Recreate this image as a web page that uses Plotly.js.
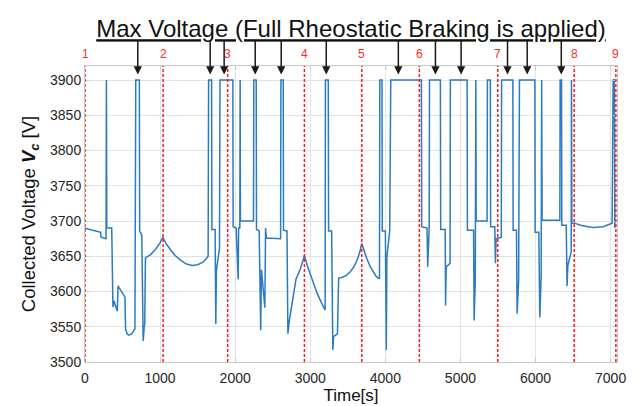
<!DOCTYPE html>
<html>
<head>
<meta charset="utf-8">
<script src="https://cdn.plot.ly/plotly-3.0.1.min.js"></script>
<style>html,body{margin:0;padding:0;background:#fff;}#chart{width:639px;height:406px;}</style>
</head>
<body>
<div id="chart"></div>
<script>
// Time [s] and collected voltage [V]
var timeS = [0, 209, 213, 280, 285, 290, 356, 362, 372, 385, 430, 440, 490, 532, 540, 560, 580, 620, 665,
  676, 724, 728, 756, 775, 790, 795, 805, 870, 940, 1000, 1036, 1080, 1133, 1200, 1267, 1350, 1430, 1500, 1578, 1640,
  1646, 1686, 1690, 1733, 1742, 1750, 1791, 1798, 1969, 1973, 2013, 2040, 2046, 2062, 2066, 2070,
  2244, 2248, 2280, 2284, 2320, 2327, 2340, 2350, 2395, 2405, 2415, 2605, 2609, 2640, 2644, 2690,
  2702, 2720, 2791, 2809, 2867, 2924, 2960, 3000, 3050, 3089, 3150, 3198, 3202, 3240, 3244, 3285, 3300, 3310, 3362,
  3378, 3420, 3480, 3533, 3580, 3622, 3660, 3685, 3720, 3755, 3800, 3844, 3880, 3922, 3926, 3955, 3959, 4000, 4013, 4020, 4058, 4072,
  4480, 4484, 4555, 4564, 4584, 4588, 4733, 4737, 4797, 4802, 4810, 4862, 4866, 5089, 5093, 5175,
  5182, 5198, 5205, 5210, 5355, 5359, 5398, 5402, 5457, 5466, 5475, 5544, 5548, 5698, 5702, 5746,
  5755, 5775, 5786, 5991, 5995, 6044, 6057, 6075, 6082, 6088, 6324, 6328, 6346, 6350, 6409, 6420,
  6430, 6475, 6479, 6484, 6520, 6600, 6700, 6777, 6900, 7020, 7034, 7050, 7056];
var voltV = [3690, 3684, 3677, 3675, 3900, 3690, 3690, 3590, 3578, 3587, 3572, 3608, 3600, 3592, 3547, 3540, 3538, 3540, 3547,
  3900, 3900, 3686, 3680, 3530, 3552, 3553, 3648, 3652, 3660, 3669, 3677, 3668, 3660, 3651, 3645, 3639, 3637, 3638, 3642, 3650,
  3900, 3900, 3688, 3688, 3554, 3630, 3661, 3900, 3900, 3692, 3690, 3617, 3690, 3690, 3900, 3700,
  3700, 3900, 3900, 3688, 3686, 3631, 3545, 3631, 3577, 3690, 3676, 3675, 3900, 3900, 3687, 3686,
  3540, 3558, 3608, 3617, 3632, 3651, 3637, 3624, 3608, 3598, 3584, 3574, 3900, 3900, 3686, 3686, 3517, 3536, 3540,
  3619, 3620, 3623, 3628, 3635, 3644, 3656, 3668, 3656, 3646, 3635, 3627, 3621, 3618, 3900, 3900, 3686, 3686, 3517, 3649, 3686, 3900,
  3900, 3692, 3690, 3635, 3690, 3900, 3900, 3688, 3688, 3580, 3635, 3640, 3900, 3900, 3687, 3687,
  3559, 3616, 3900, 3700, 3700, 3900, 3900, 3692, 3692, 3640, 3675, 3677, 3900, 3900, 3687, 3687,
  3569, 3616, 3900, 3900, 3684, 3684, 3563, 3622, 3900, 3701, 3701, 3900, 3900, 3694, 3694, 3608,
  3637, 3656, 3900, 3697, 3697, 3694, 3692, 3691, 3692, 3697, 3900, 3900, 3690];

// Section boundaries (red dashed lines) and their labels
var sectionTimes = [0, 1040, 1900, 2922, 3686, 4453, 5497, 6515, 7070];
var sectionLabels = ['1', '2', '3', '4', '5', '6', '7', '8', '9'];
// Times where full rheostatic braking is marked with arrows
var arrowTimes = [703, 1667, 1853, 2267, 2613, 3213, 4173, 4667, 5009, 5627, 5889, 6343];
var arrowVolt = 3908;

var xTicks = [0, 1000, 2000, 3000, 4000, 5000, 6000, 7000];
var yTicks = [3500, 3550, 3600, 3650, 3700, 3750, 3800, 3850, 3900];

var FONT = 'Liberation Sans, Arial, sans-serif';

var shapes = sectionTimes.map(function (t) {
  return {type: 'line', xref: 'x', yref: 'paper', x0: t, x1: t, y0: 0, y1: 1,
    line: {color: '#ff1a1a', width: 1.5, dash: '3px,2px'}};
});
var annotations = sectionLabels.map(function (lab, i) {
  return {x: sectionTimes[i], y: 1, xref: 'x', yref: 'paper', yanchor: 'bottom', yshift: 3,
    text: lab, showarrow: false, font: {family: FONT, size: 12, color: '#ff2a2a'}};
});
arrowTimes.forEach(function (t) {
  annotations.push({x: t, y: arrowVolt, xref: 'x', yref: 'y', text: '', showarrow: true,
    ax: 0, ay: -35, arrowhead: 2, arrowsize: 1.1, arrowwidth: 1.5, arrowcolor: '#1a1a1a', standoff: 0});
});

var trace = {x: timeS, y: voltV, type: 'scatter', mode: 'lines',
  line: {color: '#2b7bc0', width: 1.5}, hoverinfo: 'skip'};

var layout = {
  width: 639, height: 406,
  margin: {l: 85, r: 22, t: 66, b: 44},
  paper_bgcolor: '#ffffff', plot_bgcolor: '#ffffff',
  showlegend: false,
  title: {text: '<u>Max Voltage (Full Rheostatic Braking is applied)</u>',
    font: {family: FONT, size: 24, color: '#111'},
    x: 0.5, xref: 'paper', xanchor: 'center', y: 0.929, yref: 'container', yanchor: 'middle'},
  xaxis: {range: [0, 7085], tickvals: xTicks, ticktext: xTicks.map(String),
    showgrid: true, gridcolor: '#e3e3e3', zeroline: false,
    showline: true, linecolor: '#c8c8c8', mirror: 'ticks', ticks: 'inside', ticklen: 4, tickcolor: '#c8c8c8',
    ticklabelstandoff: 3,
    tickfont: {family: FONT, size: 14, color: '#262626'},
    title: {text: 'Time[s]', font: {family: FONT, size: 17, color: '#111'}, standoff: 3}},
  yaxis: {range: [3500, 3920], tickvals: yTicks, ticktext: yTicks.map(String),
    showgrid: true, gridcolor: '#e3e3e3', zeroline: false,
    showline: true, linecolor: '#c8c8c8', mirror: 'ticks', ticks: 'inside', ticklen: 4, tickcolor: '#c8c8c8',
    tickfont: {family: FONT, size: 14, color: '#262626'},
    title: {text: 'Collected Voltage <b><i>V</i></b><sub><b><i>c</i></b></sub> [V]',
      font: {family: FONT, size: 18.5, color: '#111'}, standoff: 9}},
  shapes: shapes,
  annotations: annotations
};

Plotly.newPlot('chart', [trace], layout, {staticPlot: true, displayModeBar: false});
</script>
</body>
</html>
